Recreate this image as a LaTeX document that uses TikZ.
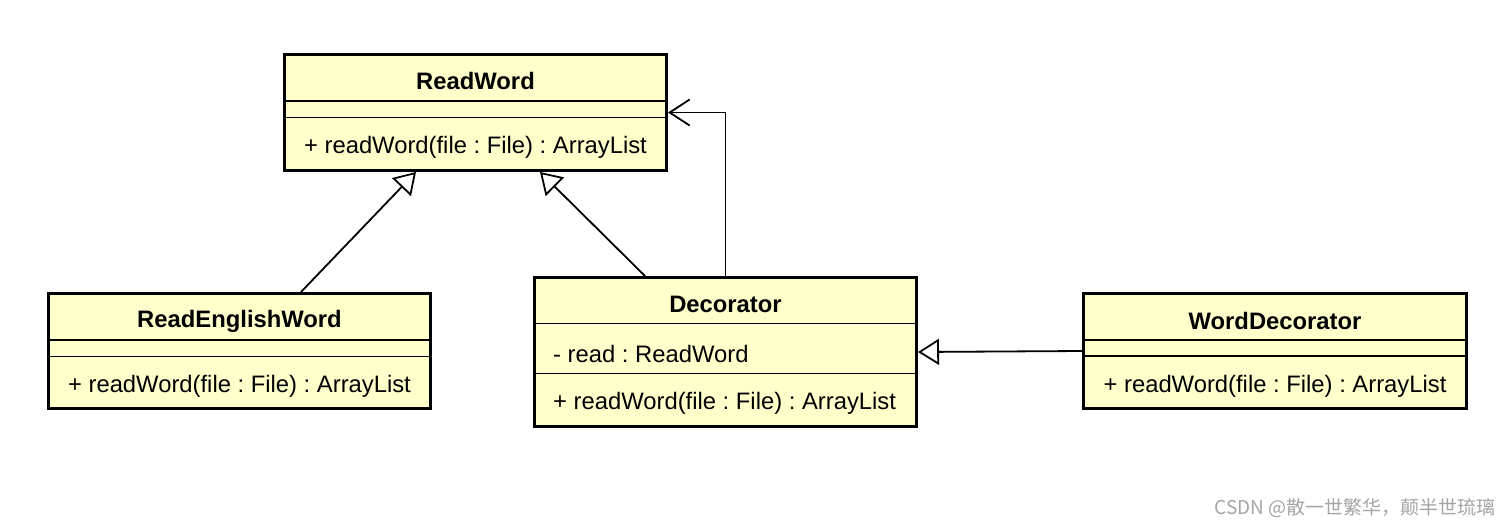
\documentclass[tikz,border=0pt]{standalone}
\usepackage{fontspec}
\setmainfont{Liberation Sans}
\newfontfamily\cjk{Noto Sans CJK SC}
\usetikzlibrary{arrows.meta,calc}
\definecolor{clsfill}{RGB}{255,255,204}
\definecolor{wmgray}{RGB}{165,165,165}
\frenchspacing
\tikzset{
  cls/.style={draw=black, line width=3pt, fill=clsfill, rectangle, inner sep=0pt},
  sep/.style={draw=black, line width=1.3pt},
  title/.style={font=\fontsize{23.8}{28}\selectfont\bfseries, inner sep=0pt},
  member/.style={font=\fontsize{23.8}{28}\selectfont, inner sep=0pt},
  conn/.style={line width=1.8pt, draw=black},
  gen/.style={conn, -{Triangle[open, length=21pt, width=26pt, fill=white, line width=1.8pt]}},
  assoc/.style={conn, -{Straight Barb[length=20pt, width=26pt, line width=1.8pt]}},
}
\begin{document}
\begin{tikzpicture}[x=1pt, y=-1pt]
\useasboundingbox[fill=white] (0,0) rectangle (1511,527);

% ReadWord
\node[cls, minimum width=382pt, minimum height=116pt] (rw) at (475.5,112.5) {};
\draw[sep] (284.5,101) -- (666.5,101);
\draw[sep] (284.5,117.5) -- (666.5,117.5);
\node[title] (rwt) at (475.5,81) {ReadWord};
\node[member] (rwm) at (475.5,147) {+ readWord(file : File) : ArrayList};

% ReadEnglishWord
\node[cls, minimum width=382pt, minimum height=115pt] (re) at (239.5,351) {};
\draw[sep] (48.5,340) -- (430.5,340);
\draw[sep] (48.5,356.5) -- (430.5,356.5);
\node[title] (ret) at (239.5,321) {ReadEnglishWord};
\node[member] (rem) at (239.5,386) {+ readWord(file : File) : ArrayList};

% Decorator
\node[cls, minimum width=382pt, minimum height=149pt] (dec) at (725.5,352) {};
\draw[sep] (534.5,323.5) -- (916.5,323.5);
\draw[sep] (534.5,373.5) -- (916.5,373.5);
\node[title] (dect) at (725.5,304) {Decorator};
\node[member, anchor=west] (deca) at (553,354) {- read : ReadWord};
\node[member, anchor=west] (decm) at (553,403) {+ readWord(file : File) : ArrayList};

% WordDecorator
\node[cls, minimum width=383pt, minimum height=115pt] (wd) at (1275,351) {};
\draw[sep] (1083.5,340) -- (1466.5,340);
\draw[sep] (1083.5,356) -- (1466.5,356);
\node[title] (wdt) at (1275,321) {WordDecorator};
\node[member] (wdm) at (1275,386) {+ readWord(file : File) : ArrayList};

% connectors
\draw[gen] ([xshift=61.5pt]re.north) -- ([xshift=-59.5pt]rw.south);
\draw[gen] ([xshift=-80.5pt]dec.north) -- ([xshift=64.5pt]rw.south);
\draw[assoc] (dec.north) |- (rw.east);
\draw[gen] (wd.west) -- (dec.east);

% watermark
\node[font=\cjk\fontsize{19}{22}\selectfont, text=wmgray, anchor=east, inner sep=0pt] (wm) at (1496,508) {CSDN @散一世繁华，颠半世琉璃};
\end{tikzpicture}
\end{document}
